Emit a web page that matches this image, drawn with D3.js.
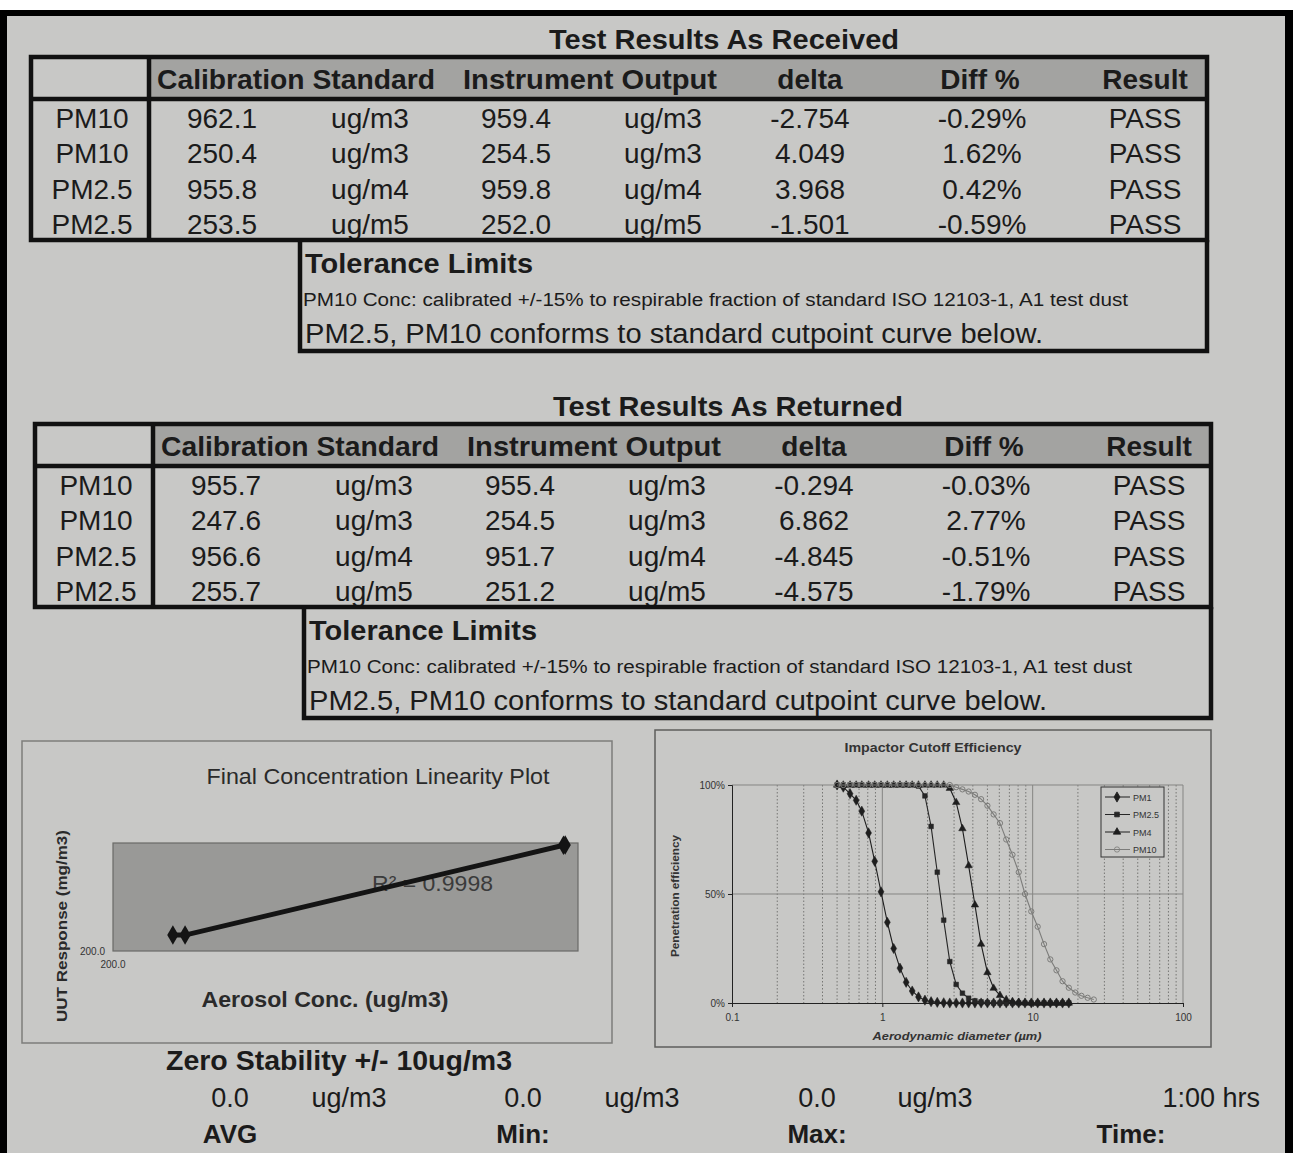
<!DOCTYPE html>
<html>
<head>
<meta charset="utf-8">
<script src="https://cdn.jsdelivr.net/npm/d3@7"></script>
<style>
  body { margin: 0; background: #fff; }
  svg { display: block; }
  text { font-family: "Liberation Sans", Arial, sans-serif; fill: #1b1b1b; }
</style>
</head>
<body>
<svg id="page" width="1293" height="1153"></svg>
<script>
// ---- Calibration tables ----
const rowLabels = ["PM10", "PM10", "PM2.5", "PM2.5"];
const rowUnits = ["ug/m3", "ug/m3", "ug/m4", "ug/m5"];
const headerLabels = ["Calibration Standard", "Instrument Output", "delta", "Diff %", "Result"];

const receivedStandard = [962.1, 250.4, 955.8, 253.5];
const receivedOutput = [959.4, 254.5, 959.8, 252.0];
const receivedDelta = [-2.754, 4.049, 3.968, -1.501];
const receivedDiffPct = [-0.29, 1.62, 0.42, -0.59];
const receivedResult = ["PASS", "PASS", "PASS", "PASS"];

const returnedStandard = [955.7, 247.6, 956.6, 255.7];
const returnedOutput = [955.4, 254.5, 951.7, 251.2];
const returnedDelta = [-0.294, 6.862, -4.845, -4.575];
const returnedDiffPct = [-0.03, 2.77, -0.51, -1.79];
const returnedResult = ["PASS", "PASS", "PASS", "PASS"];

const toleranceTitle = "Tolerance Limits";
const toleranceNote = "PM10 Conc: calibrated +/-15% to respirable fraction of standard ISO 12103-1, A1 test dust";
const toleranceCurve = "PM2.5, PM10 conforms to standard cutpoint curve below.";

// ---- Linearity plot ----
const linearityConc = [303, 324, 975, 978];
const linearityResp = [318, 318, 983, 985];
const linearityR2 = 0.9998;
const linearityTicks = [200];

// ---- Impactor cutoff efficiency ----
const diameters = [0.50, 0.55, 0.61, 0.67, 0.73, 0.81, 0.89, 0.98, 1.08, 1.19, 1.31, 1.44, 1.58, 1.74,
  1.92, 2.11, 2.32, 2.56, 2.81, 3.10, 3.41, 3.75, 4.13, 4.54, 5.00, 5.50, 6.06, 6.67, 7.34, 8.08,
  8.89, 9.79, 10.8, 11.9, 13.1, 14.4, 15.8, 17.4, 19.2, 21.1, 23.2, 25.5];
const pm1Eff = [1.00, 0.99, 0.96, 0.93, 0.88, 0.78, 0.65, 0.51, 0.37, 0.25, 0.16, 0.095, 0.055, 0.028,
  0.013, 0.006, 0.003, 0.001, 0, 0, 0, 0, 0, 0, 0, 0, 0, 0, 0, 0, 0, 0, 0, 0, 0, 0, 0, 0];
const pm25Eff = [1, 1, 1, 1, 1, 1, 1, 1, 1, 1, 1, 1, 1, 0.995, 0.95, 0.81, 0.60, 0.38, 0.19, 0.085,
  0.045, 0.022, 0.010, 0.005, 0.002, 0, 0, 0, 0, 0, 0, 0, 0, 0, 0, 0, 0, 0];
const pm4Eff = [1, 1, 1, 1, 1, 1, 1, 1, 1, 1, 1, 1, 1, 1, 1, 1, 1, 1, 0.985, 0.92, 0.80, 0.63, 0.45,
  0.27, 0.14, 0.068, 0.035, 0.016, 0.007, 0.003, 0.001, 0, 0, 0, 0, 0, 0, 0];
const pm10Eff = [1, 1, 1, 1, 1, 1, 1, 1, 1, 1, 1, 1, 1, 1, 1, 1, 1, 1, 1, 0.99, 0.98, 0.97, 0.955,
  0.935, 0.905, 0.865, 0.825, 0.75, 0.68, 0.60, 0.50, 0.42, 0.35, 0.27, 0.20, 0.15, 0.10, 0.07,
  0.048, 0.033, 0.024, 0.016];
const seriesNames = ["PM1", "PM2.5", "PM4", "PM10"];
const yTickValues = [0, 0.5, 1];
const xTickValues = [0.1, 1, 10, 100];

// ---- Zero stability ----
const zeroLabels = ["AVG", "Min:", "Max:", "Time:"];
const zeroValues = [0.0, 0.0, 0.0];
const zeroUnit = "ug/m3";
const zeroTime = "1:00 hrs";

const svg = d3.select("#page");
const PAPER = "#c8c8c6";

// page and scanner frame
svg.append("rect").attr("width", 1293).attr("height", 1153).attr("fill", "#fff");
svg.append("rect").attr("y", 10).attr("width", 1293).attr("height", 1143).attr("fill", "#000");
svg.append("rect").attr("x", 7).attr("y", 16).attr("width", 1278).attr("height", 1137).attr("fill", PAPER);

function txt(g, x, y, s, opts = {}) {
  const t = g.append("text").attr("x", x).attr("y", y).text(s)
    .attr("font-size", opts.size || 28)
    .attr("text-anchor", opts.anchor || "middle");
  if (opts.bold) t.attr("font-weight", "bold");
  if (opts.italic) t.attr("font-style", "italic");
  if (opts.fill) t.style("fill", opts.fill);
  if (opts.len) t.attr("textLength", opts.len).attr("lengthAdjust", "spacingAndGlyphs");
  return t;
}

// ---- results table ----
function drawTable(left, top, title, standard, output, delta, diff, result) {
  const g = svg.append("g").attr("transform", `translate(${left},${top})`);
  const W = 1176, H = 183, div = 118, headH = 42, bw = 4.5;
  const colX = [61, 191, 339, 485, 632, 779, 951, 1114];
  const headX = [265, 559, 779, 949, 1114];
  const headLen = [278, 254, null, null, null];

  txt(g, 693, -8, title, { bold: true, size: 28, len: 350 });
  g.append("rect").attr("x", div).attr("y", 0).attr("width", W - div).attr("height", headH)
    .attr("fill", "#a3a3a1");
  headerLabels.forEach((h, i) => txt(g, headX[i], 32, h, { bold: true, size: 28, len: headLen[i] }));

  const rows = rowLabels.map((lab, i) => [
    lab, standard[i].toFixed(1), rowUnits[i], output[i].toFixed(1), rowUnits[i],
    delta[i].toFixed(3), diff[i].toFixed(2) + "%", result[i]
  ]);
  const rowY = [71, 106, 142, 177];
  rows.forEach((r, i) => r.forEach((s, j) => txt(g, colX[j], rowY[i], s, { size: 28 })));

  g.append("rect").attr("width", W).attr("height", H).attr("fill", "none")
    .attr("stroke", "#111").attr("stroke-width", bw);
  g.append("line").attr("x1", 0).attr("x2", W).attr("y1", headH).attr("y2", headH)
    .attr("stroke", "#111").attr("stroke-width", bw);
  g.append("line").attr("x1", div).attr("x2", div).attr("y1", 0).attr("y2", H)
    .attr("stroke", "#111").attr("stroke-width", bw);

  // tolerance box under the table
  g.append("path").attr("d", `M269,${H} V294 H${W} V${H}`).attr("fill", "none")
    .attr("stroke", "#111").attr("stroke-width", bw);
  txt(g, 274, 216, toleranceTitle, { bold: true, size: 27, anchor: "start", len: 228 });
  txt(g, 272, 249, toleranceNote, { size: 18, anchor: "start", len: 825 });
  txt(g, 274, 286, toleranceCurve, { size: 27, anchor: "start", len: 738 });
}

drawTable(31, 57, "Test Results As Received", receivedStandard, receivedOutput, receivedDelta, receivedDiffPct, receivedResult);
drawTable(35, 424, "Test Results As Returned", returnedStandard, returnedOutput, returnedDelta, returnedDiffPct, returnedResult);

// ---- linearity plot ----
{
  const g = svg.append("g");
  g.append("rect").attr("x", 22).attr("y", 741).attr("width", 590).attr("height", 302)
    .attr("fill", "none").attr("stroke", "#7d7d7b").attr("stroke-width", 1.5);
  txt(g, 378, 784, "Final Concentration Linearity Plot", { size: 22, len: 343, fill: "#2a2a2a" });

  const x = d3.scaleLinear().domain([200, 1000]).range([113, 578]);
  const y = d3.scaleLinear().domain([200, 1000]).range([951, 843]);
  g.append("rect").attr("x", x(200)).attr("y", y(1000)).attr("width", x(1000) - x(200))
    .attr("height", y(200) - y(1000)).attr("fill", "#999997").attr("stroke", "#6a6a68").attr("stroke-width", 1.2);

  linearityTicks.forEach(v => {
    txt(g, x(v) - 8, y(v) + 4, v.toFixed(1), { size: 10, anchor: "end", fill: "#333" });
    txt(g, x(v), y(v) + 17, v.toFixed(1), { size: 10, fill: "#333" });
  });

  txt(g, 372, 891, "R² = " + linearityR2, { size: 22, anchor: "start", len: 121, fill: "#3b3b3b" });

  const pts = linearityConc.map((c, i) => [c, linearityResp[i]]).sort((a, b) => a[0] - b[0]);
  g.append("path").attr("d", d3.line().x(d => x(d[0])).y(d => y(d[1]))(pts))
    .attr("fill", "none").attr("stroke", "#141414").attr("stroke-width", 5);
  g.selectAll(".lp").data(pts).join("path")
    .attr("transform", d => `translate(${x(d[0])},${y(d[1])})`)
    .attr("d", d3.symbol(d3.symbolDiamond, 110)).attr("fill", "#141414");

  txt(g, 0, 0, "UUT Response (mg/m3)", { bold: true, size: 15, len: 192, fill: "#2a2a2a" })
    .attr("transform", "translate(67,926) rotate(-90)");
  txt(g, 325, 1007, "Aerosol Conc. (ug/m3)", { bold: true, size: 22, len: 247, fill: "#2a2a2a" });
}

// ---- impactor cutoff efficiency ----
{
  const g = svg.append("g");
  g.append("rect").attr("x", 655).attr("y", 730).attr("width", 556).attr("height", 317)
    .attr("fill", "none").attr("stroke", "#5e5e5c").attr("stroke-width", 1.5);
  txt(g, 933, 752, "Impactor Cutoff Efficiency", { bold: true, size: 12, len: 177, fill: "#333" });

  const x = d3.scaleLog().domain([0.1, 100]).range([732, 1183]);
  const y = d3.scaleLinear().domain([0, 1]).range([1003, 785]);

  // log grid
  x.ticks().forEach(v => {
    const major = Math.abs(Math.log10(v) - Math.round(Math.log10(v))) < 1e-9;
    if (v === 0.1) return;
    g.append("line").attr("x1", x(v)).attr("x2", x(v)).attr("y1", y(1)).attr("y2", y(0))
      .attr("stroke", major ? "#858583" : "#6d6d6b").attr("stroke-width", major ? 1 : 0.9)
      .attr("stroke-dasharray", major ? null : "1.5,2");
  });
  [0.5, 1].forEach(v => g.append("line").attr("x1", x(0.1)).attr("x2", x(100))
    .attr("y1", y(v)).attr("y2", y(v)).attr("stroke", "#858583").attr("stroke-width", 1));

  const yAxis = g.append("g").attr("transform", `translate(${x(0.1)},0)`)
    .call(d3.axisLeft(y).tickValues(yTickValues).tickSize(4).tickFormat(d => Math.round(d * 100) + "%"));
  const xAxis = g.append("g").attr("transform", `translate(0,${y(0)})`)
    .call(d3.axisBottom(x).tickValues(xTickValues).tickSize(4).tickFormat(d => String(d)));
  [yAxis, xAxis].forEach(a => {
    a.select(".domain").attr("stroke", "#222");
    a.selectAll(".tick line").attr("stroke", "#222");
    a.selectAll("text").style("font-size", "10px").style("fill", "#333")
      .style("font-family", "\"Liberation Sans\", Arial, sans-serif");
  });
  xAxis.selectAll("text").attr("dy", "1.1em");

  txt(g, 0, 0, "Penetration efficiency", { bold: true, size: 10, len: 122, fill: "#333" })
    .attr("transform", "translate(679,896) rotate(-90)");
  txt(g, 957, 1040, "Aerodynamic diameter (µm)", { bold: true, italic: true, size: 10, len: 169, fill: "#333" });

  const effs = [pm1Eff, pm25Eff, pm4Eff, pm10Eff];
  const colors = ["#1e1e1e", "#262626", "#1e1e1e", "#7c7c7a"];
  const dashes = [null, null, null, null];
  const shapes = [d3.symbolDiamond, d3.symbolSquare, d3.symbolTriangle, d3.symbolCircle];
  const sizes = [30, 22, 24, 22];
  effs.forEach((eff, k) => {
    const pts = eff.map((e, i) => [diameters[i], e]);
    g.append("path").attr("d", d3.line().x(d => x(d[0])).y(d => y(d[1]))(pts))
      .attr("fill", "none").attr("stroke", colors[k]).attr("stroke-width", 1.1)
      .attr("stroke-dasharray", dashes[k]);
    g.selectAll(null).data(pts).join("path")
      .attr("transform", d => `translate(${x(d[0])},${y(d[1])})`)
      .attr("d", d3.symbol(shapes[k], sizes[k]))
      .attr("fill", k === 3 ? "none" : colors[k])
      .attr("stroke", colors[k]).attr("stroke-width", k === 3 ? 1 : 0.5);
  });

  // legend
  const lg = g.append("g").attr("transform", "translate(1101,787)");
  lg.append("rect").attr("width", 63).attr("height", 70).attr("fill", PAPER)
    .attr("stroke", "#333").attr("stroke-width", 1);
  seriesNames.forEach((name, k) => {
    const ly = 10 + k * 17.5;
    lg.append("line").attr("x1", 4).attr("x2", 29).attr("y1", ly).attr("y2", ly)
      .attr("stroke", colors[k]).attr("stroke-width", 1);
    lg.append("path").attr("transform", `translate(16,${ly})`).attr("d", d3.symbol(shapes[k], sizes[k]))
      .attr("fill", k === 3 ? "none" : colors[k]).attr("stroke", colors[k]).attr("stroke-width", 0.8);
    txt(lg, 32, ly + 3.5, name, { size: 9, anchor: "start", fill: "#333" });
  });
}

// ---- zero stability ----
{
  const g = svg.append("g");
  txt(g, 166, 1070, "Zero Stability +/- 10ug/m3", { bold: true, size: 27, anchor: "start", len: 346 });
  const valX = [230, 523, 817];
  const unitX = [349, 642, 935];
  zeroValues.forEach((v, i) => {
    txt(g, valX[i], 1107, v.toFixed(1), { size: 27 });
    txt(g, unitX[i], 1107, zeroUnit, { size: 27 });
  });
  txt(g, 1260, 1107, zeroTime, { size: 27, anchor: "end" });
  const labX = [230, 523, 817, 1131];
  zeroLabels.forEach((s, i) => txt(g, labX[i], 1143, s, { bold: true, size: 26 }));
}
</script>
</body>
</html>
